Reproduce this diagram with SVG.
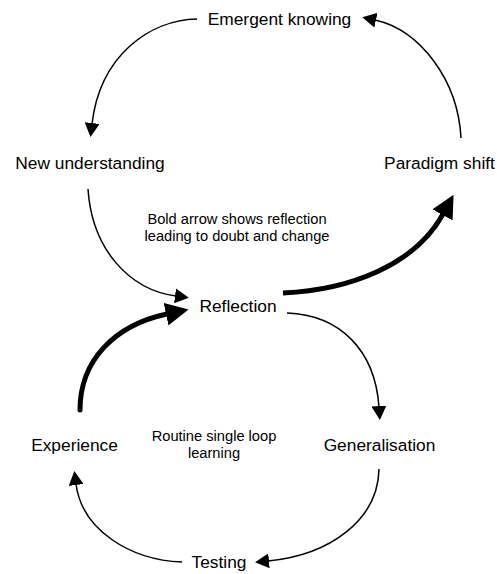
<svg xmlns="http://www.w3.org/2000/svg" width="497" height="574" viewBox="0 0 497 574">
<style>
.lbl{font-family:"Liberation Sans",Arial,sans-serif;font-size:17.33px;fill:#000;text-anchor:middle}
.note{font-family:"Liberation Sans",Arial,sans-serif;font-size:14.67px;fill:#000;text-anchor:middle}
.thin{fill:none;stroke:#000;stroke-width:1.5}
.bold{fill:none;stroke:#000;stroke-width:5}
</style>
<defs>
<marker id="ah" markerUnits="userSpaceOnUse" markerWidth="14" markerHeight="15" viewBox="0 0 14 15" refX="1" refY="7.5" orient="auto">
<path d="M0,0 L14,7.5 L0,15 z" fill="#000"/>
</marker>
<marker id="ahb" markerUnits="userSpaceOnUse" markerWidth="23" markerHeight="23" viewBox="0 0 23 23" refX="1" refY="11.5" orient="auto">
<path d="M0,0 L23,11.5 L0,23 z" fill="#000"/>
</marker>
</defs>
<g id="connectors">
<path class="thin" d="M197,19 C150,20 100,55 92,124" marker-end="url(#ah)"/>
<path class="thin" d="M461,138 C458,80 420,30 375,20" marker-end="url(#ah)"/>
<path class="thin" d="M88,189 C92,250 130,290 176,296" marker-end="url(#ah)"/>
<path class="bold" d="M283,293 C350,290 415,265 443,214" marker-end="url(#ahb)" style="stroke-linecap:butt"/>
<path class="bold" d="M80,410 C80,360 115,325 167,314" marker-end="url(#ahb)" style="stroke-linecap:round"/>
<path class="thin" d="M287,313 C340,315 375,350 379,407" marker-end="url(#ah)"/>
<path class="thin" d="M379,469 C378,520 330,555 268,561" marker-end="url(#ah)"/>
<path class="thin" d="M182,562 C130,560 82,530 76,484" marker-end="url(#ah)"/>
</g>
<g id="emergent-knowing"><text class="lbl" x="279.5" y="25">Emergent knowing</text></g>
<g id="new-understanding"><text class="lbl" x="90" y="169">New understanding</text></g>
<g id="paradigm-shift"><text class="lbl" x="439.5" y="169">Paradigm shift</text></g>
<g id="reflection"><text class="lbl" x="238" y="312">Reflection</text></g>
<g id="experience"><text class="lbl" x="74.5" y="451">Experience</text></g>
<g id="generalisation"><text class="lbl" x="379.5" y="451">Generalisation</text></g>
<g id="testing"><text class="lbl" x="219" y="568">Testing</text></g>
<g id="note-bold"><text class="note" x="237" y="224">Bold arrow shows reflection</text><text class="note" x="237" y="241">leading to doubt and change</text></g>
<g id="note-routine"><text class="note" x="214" y="441">Routine single loop</text><text class="note" x="214" y="458">learning</text></g>
</svg>
